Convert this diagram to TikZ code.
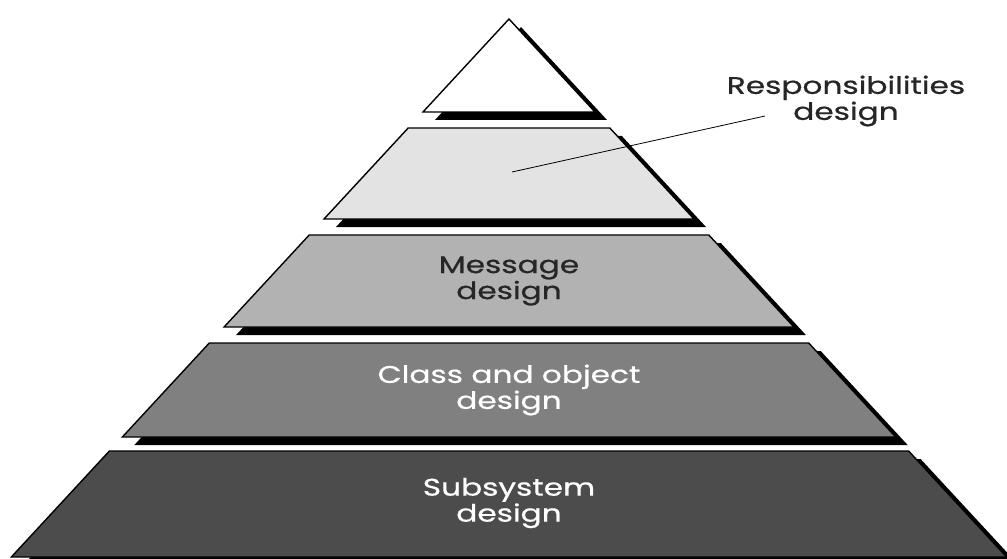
\documentclass[tikz,border=0pt]{standalone}
\usepackage{fontspec}
\setmainfont{Poppins}
\newfontfamily\tierfont{Poppins}[FakeBold=0.6]
\usetikzlibrary{calc}
\definecolor{tierA}{gray}{0.89}
\definecolor{tierB}{gray}{0.70}
\definecolor{tierC}{gray}{0.50}
\definecolor{tierD}{gray}{0.30}
\tikzset{tier/.style={draw=black, line width=1.4pt, line join=miter},
  tiershadow/.style={fill=black, xshift=12pt, yshift=-8pt},
  label/.style={font=\tierfont\fontsize{24}{26}\selectfont, align=center, xscale=1.3}}
\begin{document}
\begin{tikzpicture}[x=1pt, y=-1pt]
\useasboundingbox (0,0) rectangle (1007,559);
% slices of one pyramid: top / bottom / fill
\foreach \ya/\yb/\col in {19/112/white, 128/219/tierA, 235/327/tierB, 343/437/tierC, 451/557/tierD} {
	\pgfmathsetmacro\wa{0.925*(\ya-19)}
	\pgfmathsetmacro\wb{0.925*(\yb-19)}
	\fill[tiershadow] (509-\wa,\ya) -- (509+\wa,\ya) -- (509+\wb,\yb) -- (509-\wb,\yb) -- cycle;
	\draw[tier, fill=\col] (509-\wa,\ya) -- (509+\wa,\ya) -- (509+\wb,\yb) -- (509-\wb,\yb) -- cycle;
}
\node[label, text=black!85] (msg) at (509,281) {Message\\design};
\node[label, text=white] (cls) at (509,390) {Class and object\\design};
\node[label, text=white] (sub) at (509,503) {Subsystem\\design};
\node[label, text=black!85] (resp) at (846,101) {Responsibilities\\design};
\coordinate (tip) at (512,172);
\draw[line width=0.8pt] (tip) -- ($(resp.center)+(-81,15)$);
\end{tikzpicture}
\end{document}
